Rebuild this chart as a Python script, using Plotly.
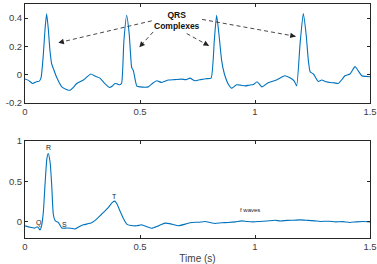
import plotly.graph_objects as go
from plotly.subplots import make_subplots
import math

# ---- Data: top panel (AF ECG, several beats) ----
t1 = [0.000,0.015,0.033,0.050,0.062,0.070,0.080,0.087,0.094,0.101,0.108,0.116,0.124,0.138,0.160,0.180,0.196,0.210,0.225,0.254,
      0.270,0.286,0.305,0.326,0.345,0.367,0.380,0.391,0.400,0.412,0.420,0.430,0.442,0.453,0.464,0.471,0.486,0.500,0.536,0.555,
      0.573,0.594,0.623,0.650,0.681,0.700,0.717,0.739,0.768,0.790,0.809,0.823,0.833,0.843,0.855,0.867,0.884,0.899,0.920,0.940,
      0.957,0.975,0.993,1.009,1.030,1.057,1.093,1.129,1.150,1.170,1.181,1.196,1.210,1.222,1.232,1.240,1.254,1.275,1.290,1.310,
      1.326,1.345,1.362,1.380,1.391,1.413,1.435,1.450,1.464,1.480,1.500]
v1 = [-0.030,-0.040,-0.062,-0.050,-0.045,-0.020,0.150,0.320,0.430,0.330,0.180,0.076,0.040,-0.020,-0.086,-0.104,-0.110,-0.090,-0.062,-0.038,
      -0.015,0.005,-0.010,-0.024,-0.060,-0.090,-0.080,-0.062,-0.065,-0.071,-0.060,0.240,0.420,0.290,0.050,0.030,-0.080,-0.086,-0.086,-0.060,
      -0.043,-0.055,-0.038,-0.035,-0.031,-0.035,-0.024,-0.043,-0.033,-0.028,-0.024,0.240,0.420,0.290,0.100,0.005,-0.067,-0.095,-0.071,-0.075,
      -0.079,-0.074,-0.070,-0.050,-0.086,-0.057,-0.038,-0.007,-0.020,-0.043,-0.079,0.220,0.433,0.290,0.100,0.020,0.005,-0.048,-0.038,-0.050,
      -0.055,-0.058,-0.062,-0.030,-0.007,0.005,0.057,0.025,-0.007,-0.012,-0.014]

# ---- Data: bottom panel (single beat) ----
t2 = [0.000,0.022,0.043,0.053,0.060,0.065,0.072,0.080,0.087,0.095,0.101,0.109,0.116,0.123,0.130,0.135,0.145,0.160,0.181,0.200,
      0.217,0.235,0.254,0.290,0.310,0.333,0.360,0.380,0.391,0.400,0.413,0.428,0.442,0.460,0.486,0.507,0.530,0.551,0.580,0.609,
      0.640,0.667,0.700,0.725,0.755,0.783,0.805,0.826,0.855,0.884,0.915,0.942,0.965,0.993,1.020,1.050,1.087,1.110,1.140,1.170,
      1.196,1.230,1.260,1.283,1.320,1.350,1.380,1.413,1.440,1.470,1.500]
v2 = [-0.050,-0.068,-0.077,-0.060,-0.080,-0.100,-0.050,0.130,0.460,0.780,0.846,0.740,0.460,0.094,0.020,0.005,-0.008,-0.077,-0.077,-0.080,
      -0.089,-0.060,-0.037,-0.012,0.030,0.094,0.170,0.240,0.256,0.220,0.134,0.040,-0.028,-0.045,-0.049,-0.037,-0.060,-0.080,-0.050,-0.016,
      -0.030,-0.049,-0.025,-0.008,-0.005,0.005,-0.008,-0.020,-0.012,-0.008,0.000,0.012,0.005,0.000,0.005,0.010,0.020,0.010,0.018,0.020,
      0.024,0.018,0.012,0.005,0.008,0.000,0.003,-0.008,0.000,0.004,0.000]

# ---- Tick labels ----
x_ticks = [0, 0.5, 1, 1.5]
x_ticktext = ["0", "0.5", "1", "1.5"]
y1_ticks = [-0.2, 0, 0.2, 0.4]
y1_ticktext = ["-0.2", "0", "0.2", "0.4"]
y2_ticks = [0, 0.5, 1]
y2_ticktext = ["0", "0.5", "1"]

# ---- Annotations ----
qrs_text = "QRS<br>Complexes"
qrs_pos = (0.663, 0.382)
arrow_tails = [(0.551, 0.381), (0.557, 0.302), (0.703, 0.291), (0.770, 0.391)]
arrow_heads = [(0.145, 0.226), (0.497, 0.195), (0.800, 0.204), (1.177, 0.271)]
wave_labels = ["Q", "R", "S", "T", "f waves"]
wave_x = [0.061, 0.101, 0.170, 0.391, 0.980]
wave_y = [-0.016, 0.915, -0.030, 0.317, 0.146]

BLUE = "#0072BD"
AX = "#262626"
TXT = "#404040"
FONT = "Liberation Sans, Arial, sans-serif"

fig = make_subplots(rows=2, cols=1, vertical_spacing=0.0)
fig.add_trace(go.Scatter(x=t1, y=v1, mode="lines", line=dict(color=BLUE, width=1.1, shape="spline", smoothing=0.5),
                         showlegend=False, hoverinfo="skip"), row=1, col=1)
fig.add_trace(go.Scatter(x=t2, y=v2, mode="lines", line=dict(color=BLUE, width=1.1, shape="spline", smoothing=0.5),
                         showlegend=False, hoverinfo="skip"), row=2, col=1)

axis_common = dict(showgrid=False, zeroline=False, showline=True, linecolor=AX, linewidth=1, mirror="ticks",
                   ticks="inside", ticklen=3, tickcolor=AX, tickwidth=1, automargin=False,
                   tickfont=dict(family=FONT, size=9.5, color=TXT))

fig.update_layout(
    template="none",
    width=377, height=264,
    margin=dict(l=25, r=7, t=4, b=26, autoexpand=False),
    paper_bgcolor="white", plot_bgcolor="white",
    font=dict(family=FONT, color=TXT),
    xaxis=dict(domain=[0, 1], range=[0, 1.5], tickvals=x_ticks, ticktext=x_ticktext, anchor="y", **axis_common),
    yaxis=dict(domain=[0.577, 1], range=[-0.2, 0.5], tickvals=y1_ticks, ticktext=y1_ticktext, anchor="x", **axis_common),
    xaxis2=dict(domain=[0, 1], range=[0, 1.5], tickvals=x_ticks, ticktext=x_ticktext, anchor="y2",
                title=dict(text="Time (s)", font=dict(family=FONT, size=10, color=TXT), standoff=6),
                **axis_common),
    yaxis2=dict(domain=[0, 0.4145], range=[-0.2, 1], tickvals=y2_ticks, ticktext=y2_ticktext, anchor="x2", **axis_common),
)

# QRS text
fig.add_annotation(x=qrs_pos[0], y=qrs_pos[1], xref="x", yref="y", text="<b>" + qrs_text + "</b>", showarrow=False,
                   font=dict(family=FONT, size=8.5, color="#111111"), align="center")

# dashed arrows
px_per_x = 230.0
px_per_y = 140.0
for (tx, ty), (hx, hy) in zip(arrow_tails, arrow_heads):
    fig.add_shape(type="line", x0=tx, y0=ty, x1=hx, y1=hy, xref="x", yref="y",
                  line=dict(color="#333333", width=0.9, dash="4px,3px"))
    dxp = (tx - hx) * px_per_x
    dyp = (ty - hy) * px_per_y
    L = math.hypot(dxp, dyp)
    bx = hx + (dxp / L * 5) / px_per_x
    by = hy + (dyp / L * 5) / px_per_y
    fig.add_annotation(x=hx, y=hy, ax=bx, ay=by, xref="x", yref="y", axref="x", ayref="y", text="",
                       showarrow=True, arrowhead=2, arrowsize=1.1, arrowwidth=1, arrowcolor="#222222")

# wave labels in bottom panel
for lab, xx, yy in zip(wave_labels, wave_x, wave_y):
    fig.add_annotation(x=xx, y=yy, xref="x2", yref="y2", text=lab, showarrow=False,
                       font=dict(family=FONT, size=7 if lab != "f waves" else 6, color="#222222"))

fig.write_html("out.html")
